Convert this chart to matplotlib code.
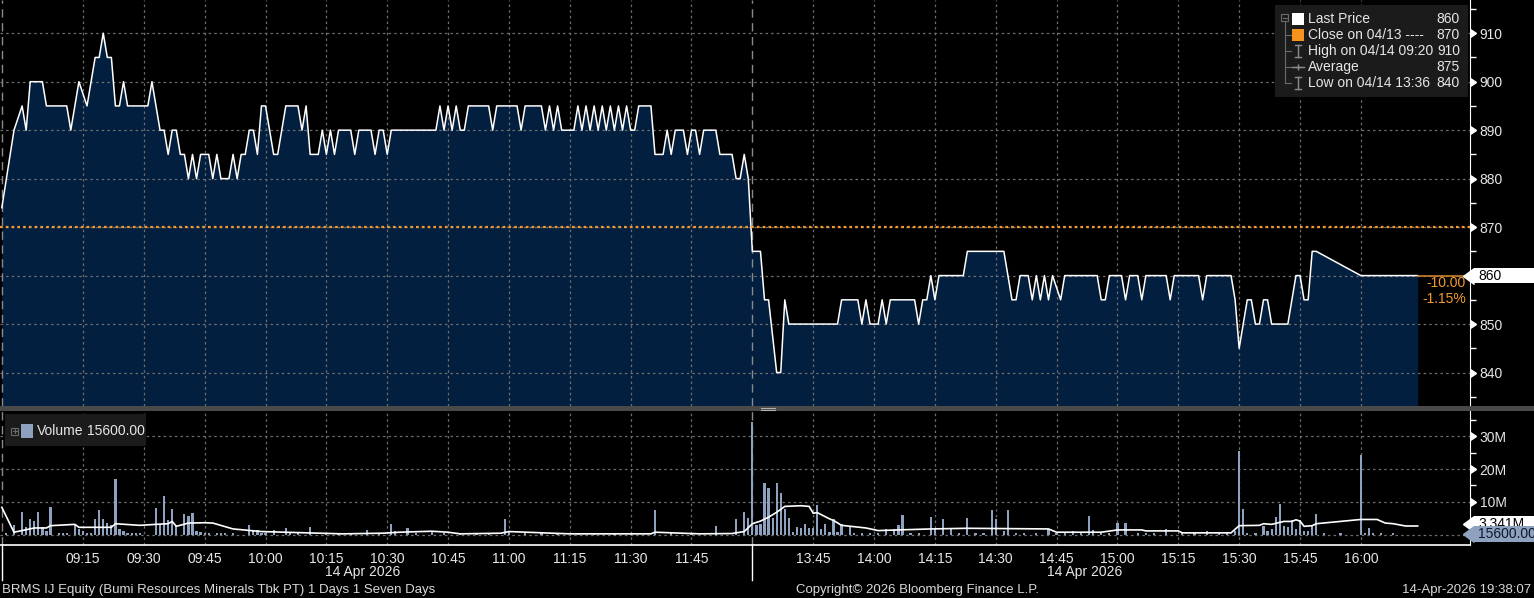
import matplotlib
matplotlib.use('Agg')
import matplotlib.pyplot as plt
import matplotlib.transforms as mtransforms
from matplotlib.patches import Rectangle
from matplotlib.lines import Line2D

# minutes counted from 09:00, the afternoon session (13:30) carries on at 180
price_t = [-5, -2, 0, 1, 2, 5, 6, 11, 12, 14, 16, 18, 19, 20, 21, 22, 23, 24, 25, 26,
           31, 32, 34, 35, 36, 37, 38, 39, 40, 41, 42, 43, 44, 46, 47, 48, 49, 51, 52, 53,
           54, 55, 56, 57, 58, 59, 60, 62, 63, 65, 68, 69, 70, 71, 73, 74, 75, 76, 77, 78,
           81, 82, 83, 86, 87, 88, 89, 90, 91, 102, 103, 104, 105, 106, 107, 108, 109, 110, 115, 116,
           117, 122, 123, 124, 128, 129, 130, 131, 132, 133, 136, 137, 138, 139, 140, 141, 142, 143, 144, 145,
           146, 147, 148, 149, 150, 151, 152, 155, 156, 158, 159, 160, 161, 163, 164, 165, 166, 167, 168, 171,
           172, 175, 176, 177, 178, 179,
           180, 182, 183, 184, 186, 187, 188, 189, 201, 202, 206, 207, 208, 209, 211, 212, 213, 214, 220, 221,
           222, 223, 224, 225, 226, 232, 233, 242, 244, 245, 246, 248, 249, 250, 251, 252, 253, 254, 256, 257,
           265, 266, 267, 268, 271, 272, 273, 275, 276, 277, 282, 283, 284, 290, 291, 292, 298, 299, 300, 302,
           303, 304, 305, 306, 307, 308, 312, 314, 315, 316, 317, 318, 319, 330, 344]
price_v = [874, 890, 895, 890, 900, 900, 895, 895, 890, 900, 895, 905, 905, 910, 905, 905, 895, 895, 900, 895,
           895, 900, 890, 890, 885, 890, 890, 885, 885, 880, 885, 880, 885, 885, 880, 885, 880, 880, 885, 880,
           885, 885, 890, 890, 885, 895, 895, 885, 885, 895, 895, 890, 895, 885, 885, 890, 885, 890, 885, 890,
           890, 885, 890, 890, 885, 890, 890, 885, 890, 890, 895, 890, 895, 890, 895, 890, 890, 895, 895, 890,
           895, 895, 890, 895, 895, 890, 895, 890, 895, 890, 890, 895, 890, 895, 890, 895, 890, 895, 890, 895,
           890, 895, 890, 895, 890, 890, 895, 895, 885, 885, 890, 885, 890, 890, 885, 890, 890, 885, 890, 890,
           885, 885, 880, 880, 885, 880,
           865, 865, 855, 855, 840, 840, 855, 850, 850, 855, 855, 850, 855, 850, 850, 855, 850, 855, 855, 850,
           855, 855, 860, 855, 860, 860, 865, 865, 855, 855, 860, 860, 855, 860, 855, 860, 855, 860, 855, 860,
           860, 855, 855, 860, 860, 855, 860, 860, 855, 860, 860, 855, 860, 860, 855, 860, 860, 855, 845, 855,
           855, 850, 850, 855, 855, 850, 850, 860, 860, 855, 855, 865, 865, 860, 860]

prev_close = 870
last_price = 860

# volume per minute, in millions
vol_t = [-2, 0, 1, 2, 3, 4, 5, 6, 7, 13, 14, 15, 18, 19, 20, 21, 22, 23, 24, 25,
         33, 34, 35, 36, 37, 38, 40, 41, 42, 43, 44, 56, 57, 58, 62, 65, 71, 85, 91, 92,
         95, 101, 119, 120, 156, 171, 176, 178, 179,
         180, 181, 182, 183, 184, 185, 186, 187, 188, 189, 190, 191, 192, 193, 194, 195, 196, 197, 198, 199,
         200, 201, 202, 204, 213, 215, 216, 217, 224, 225, 227, 229, 233, 239, 240, 242, 243, 253, 259, 263,
         264, 270, 272, 282, 292, 299, 300, 301, 304, 306, 307, 308, 309, 310, 311, 312, 313, 314, 315, 316,
         317, 318, 319, 330, 331, 332, 333]
vol_m = [2.8, 6.8, 2.2, 4.6, 4.1, 7.0, 2.2, 1.0, 8.3, 3.1, 1.7, 1.2, 4.6, 7.6, 4.6, 3.5, 2.8, 17.1, 1.7, 1.0,
         8.1, 3.1, 11.9, 4.3, 7.8, 2.8, 6.3, 5.8, 6.6, 1.2, 0.8, 3.0, 1.2, 1.4, 1.4, 2.1, 2.4, 1.4, 3.1, 1.2,
         2.0, 1.0, 4.8, 1.0, 7.6, 2.5, 4.6, 7.0, 5.0,
         34.4, 2.8, 3.3, 15.6, 14.1, 5.0, 15.9, 12.6, 7.9, 5.0, 0.9, 2.2, 2.1, 3.1, 1.9, 2.0, 8.9, 1.8, 3.1, 0.9,
         4.6, 0.9, 3.3, 2.5, 1.7, 1.7, 3.0, 6.1, 5.3, 1.7, 4.6, 1.7, 5.0, 7.4, 4.6, 1.2, 7.4, 1.7, 1.2, 5.8,
         1.5, 3.4, 3.4, 1.7, 1.2, 1.2, 25.5, 7.7, 0.4, 2.5, 1.2, 1.7, 5.5, 9.4, 2.5, 2.2, 4.3, 1.7, 4.5, 1.2,
         1.2, 2.8, 6.3, 24.4, 0.5, 2.0, 0.4]

# the many tiny trades along the base
small_t = [-4, 9, 10, 11, 16, 17, 26, 27, 28, 29, 45, 46, 48, 49, 50, 52, 59, 60, 66, 68,
           75, 78, 81, 88, 97, 104, 108, 112, 115, 124, 128, 132, 137, 141, 146, 150, 160, 165, 205, 207,
           209, 211, 219, 221, 231, 235, 237, 245, 247, 250, 255, 257, 261, 266, 268, 275, 277, 279, 286, 289,
           295, 297, 302, 321, 325, 335, 338]
small_m = [0.4, 0.5, 0.4, 0.5, 0.4, 0.5, 0.4, 0.5, 0.4, 0.5, 0.4, 0.5, 0.4, 0.5, 0.4, 0.5, 0.4, 0.5, 0.4, 0.5,
           0.4, 0.5, 0.4, 0.5, 0.4, 0.5, 0.4, 0.5, 0.4, 0.5, 0.4, 0.5, 0.4, 0.5, 0.4, 0.5, 0.4, 0.5, 0.4, 0.5,
           0.4, 0.5, 0.4, 0.5, 0.4, 0.5, 0.4, 0.5, 0.4, 0.5, 0.4, 0.5, 0.4, 0.5, 0.4, 0.5, 0.4, 0.5, 0.4, 0.5,
           0.4, 0.5, 0.4, 0.5, 0.4, 0.5, 0.4]

# moving average of volume
avg_t = [-5, -2, 0, 3, 6, 7, 13, 14, 18, 22, 23, 29, 33, 36, 37, 38, 41, 45, 47, 52,
         59, 79, 89, 93, 101, 105, 108, 118, 120, 135, 155, 156, 167, 175, 178, 180, 182, 184, 186, 188,
         192, 194, 195, 196, 199, 200, 202, 208, 211, 216, 224, 233, 253, 255, 266, 270, 276, 277, 285, 286,
         298, 300, 305, 306, 308, 311, 313, 314, 315, 316, 318, 319, 330, 334, 336, 338, 341, 344]
avg_m = [8.3, 0.7, 1.2, 2.0, 2.0, 2.7, 3.1, 2.2, 2.2, 2.2, 3.3, 2.8, 3.1, 3.3, 4.0, 2.5, 3.5, 3.6, 3.5, 1.7,
         0.9, 0.2, 0.4, 0.7, 1.0, 0.7, 0.2, 0.4, 0.9, 0.2, 0.2, 0.7, 0.2, 0.3, 0.9, 3.3, 4.1, 5.3, 6.8, 8.6,
         8.8, 8.6, 6.5, 6.7, 4.8, 4.3, 2.8, 2.0, 1.2, 1.4, 1.7, 1.9, 1.7, 0.7, 0.7, 1.4, 1.4, 1.1, 1.1, 0.5,
         0.5, 2.7, 2.8, 3.3, 3.1, 4.0, 4.0, 4.5, 4.1, 2.5, 2.7, 3.3, 4.6, 4.6, 3.5, 3.3, 2.6, 2.6]
avg_last = 3.341
vol_last = 15600.00

tick_t = [15, 30, 45, 60, 75, 90, 105, 120, 135, 150, 165,
          195, 210, 225, 240, 255, 270, 285, 300, 315, 330]
tick_lbl = ['09:15', '09:30', '09:45', '10:00', '10:15', '10:30', '10:45', '11:00', '11:15', '11:30', '11:45',
            '13:45', '14:00', '14:15', '14:30', '14:45', '15:00', '15:15', '15:30', '15:45', '16:00']
price_ticks = [840, 850, 860, 870, 880, 890, 900, 910]
session_t = [-5, 180]
date_t = [84, 262]

W, H = 1534, 598
plt.rcParams['font.family'] = ['Liberation Sans', 'DejaVu Sans']
TXT = '#e6e6e6'
GRID = dict(color='#6e6e6e', linestyle=(0, (2, 2.5)), linewidth=0.9)
FILL = '#031f3f'
VOLC = '#8ea2c0'
ORANGE = '#f29a2e'


def fx(px):
    return px / W


def fy(py):
    return 1 - py / H


def tag(a, yval, txt, fc, tc, h, z):
    # Bloomberg style value tag sitting on the right axis
    tr = mtransforms.blended_transform_factory(a.transAxes, a.transData)
    a.add_patch(Rectangle((1474 / 1470, yval - h / 2), 70 / 1470, h, transform=tr, fc=fc, ec='none',
                          clip_on=False, zorder=z))
    a.plot([1474 / 1470], [yval], transform=tr, marker=8, ms=11, color=fc, clip_on=False, zorder=z)
    a.text(1478 / 1470, yval, txt, transform=tr, ha='left', va='center', color=tc, fontsize=10,
           clip_on=False, zorder=z + 0.5)


fig = plt.figure(figsize=(W / 100, H / 100), dpi=100, facecolor='black')
ax = fig.add_axes([0, fy(406), fx(1470), 406 / H], facecolor='black')
ax2 = fig.add_axes([0, fy(545), fx(1470), (545 - 411) / H], facecolor='black', sharex=ax)

# price panel
ax.set_xlim(-5.45, 356.9)
ax.set_ylim(833.1, 916.85)
ax.fill_between(price_t, price_v, 833.1, color=FILL, lw=0, zorder=1)
ax.plot(price_t, price_v, color='white', lw=1.1, zorder=3)
ax.plot([price_t[-1], 356.9], [last_price, last_price], color='#c9802c', lw=1.2, zorder=3)
ax.axhline(prev_close, color=ORANGE, lw=1.6, linestyle=(0, (1.2, 1.4)), zorder=4)
for s in session_t:
    ax.axvline(s, color='#8a8a8a', lw=1, linestyle=(0, (6, 4)), zorder=2)
ax.set_yticks(price_ticks)
ax.set_yticklabels(['' if p == last_price else str(p) for p in price_ticks])
ax.set_yticks(range(835, 916, 10), minor=True)
ax.yaxis.tick_right()
ax.tick_params(axis='y', which='major', colors=TXT, labelsize=10, length=5, width=1, pad=2)
ax.tick_params(axis='y', which='minor', colors='white', length=4, width=1)
ax.tick_params(axis='x', length=0, labelbottom=False)
ax.set_xticks(tick_t)
ax.grid(True, which='major', zorder=2, **GRID)
for sp in ['left', 'top', 'bottom']:
    ax.spines[sp].set_visible(False)
ax.spines['right'].set_color('white')

blend = mtransforms.blended_transform_factory(ax.transAxes, ax.transData)
ax.text(1466 / 1470, 858.5, '-10.00', transform=blend, ha='right', va='center', color=ORANGE, fontsize=10)
ax.text(1466 / 1470, 855.2, '-1.15%', transform=blend, ha='right', va='center', color=ORANGE, fontsize=10)
tag(ax, last_price, str(last_price), 'white', 'black', 3.2, 7)

# volume panel
ax2.set_ylim(-3.21, 37.77)
ax2.bar(small_t, small_m, width=0.55, color=VOLC, zorder=2)
ax2.bar(vol_t, vol_m, width=0.55, color=VOLC, zorder=2)
ax2.plot(avg_t, avg_m, color='white', lw=1.2, zorder=3)
for s in session_t:
    ax2.axvline(s, color='#8a8a8a', lw=1, linestyle=(0, (6, 4)), zorder=1)
ax2.set_yticks([0, 10, 20, 30])
ax2.set_yticklabels(['', '10M', '20M', '30M'])
ax2.set_yticks([5, 15, 25, 35], minor=True)
ax2.yaxis.tick_right()
ax2.tick_params(axis='y', which='major', colors=TXT, labelsize=10, length=5, width=1, pad=2)
ax2.tick_params(axis='y', which='minor', colors='white', length=4, width=1)
ax2.set_xticks(tick_t)
ax2.set_xticklabels(tick_lbl)
ax2.tick_params(axis='x', colors=TXT, labelsize=10, length=0, pad=5)
ax2.grid(True, which='major', zorder=1, **GRID)
for sp in ['left', 'top']:
    ax2.spines[sp].set_visible(False)
ax2.spines['right'].set_color('white')
ax2.spines['bottom'].set_color('white')
ax2.spines['bottom'].set_linewidth(1.2)

bx = mtransforms.blended_transform_factory(ax2.transData, ax2.transAxes)
for s in session_t:
    ax2.plot([s, s], [0, -0.26], transform=bx, color='white', lw=1, clip_on=False)
for d in date_t:
    ax2.text(d, -0.2, '14 Apr 2026', transform=bx, ha='center', va='center', color=TXT, fontsize=10)

tag(ax2, avg_last, '%.3fM' % avg_last, 'white', 'black', 4.9, 6)
tag(ax2, vol_last / 1e6, '%.2f' % vol_last, VOLC, '#0c1a2e', 4.9, 8)

# triangle markers on the right-hand major ticks
for a in (ax, ax2):
    for tk in a.yaxis.get_major_ticks():
        tk.tick2line.set_marker(9)
        tk.tick2line.set_markersize(6)
        tk.tick2line.set_markerfacecolor('white')
        tk.tick2line.set_markeredgecolor('white')

# separator between the panels
fig.patches.append(Rectangle((0, fy(411)), 1, 5 / H, transform=fig.transFigure, fc='#4a4a4a', ec='none', zorder=5))
for gy in (407.5, 409.5):
    fig.lines.append(Line2D([fx(761), fx(775)], [fy(gy), fy(gy)], transform=fig.transFigure,
                            color='#b0b0b0', lw=0.8, zorder=6))

# price legend
fig.patches.append(Rectangle((fx(1275), fy(97)), fx(1468) - fx(1275), 92 / H, transform=fig.transFigure,
                             fc='#1b1b1b', ec='none', zorder=5))
rows = [19, 35, 51, 67, 83]
labels = ['Last Price', 'Close on 04/13 ----', 'High on 04/14 09:20', 'Average', 'Low on 04/14 13:36']
values = ['860', '870', '910', '875', '840']
TREE = '#6a6a6a'
fig.patches.append(Rectangle((fx(1281), fy(21)), 7 / W, 7 / H, transform=fig.transFigure,
                             fc='none', ec=TREE, lw=0.8, zorder=6))
fig.lines.append(Line2D([fx(1282.5), fx(1286.5)], [fy(17.5), fy(17.5)], transform=fig.transFigure,
                        color=TREE, lw=0.8, zorder=6))
fig.lines.append(Line2D([fx(1284.5), fx(1284.5)], [fy(22), fy(83)], transform=fig.transFigure,
                        color=TREE, lw=0.8, zorder=6))
for r in rows[1:]:
    fig.lines.append(Line2D([fx(1284.5), fx(1291)], [fy(r), fy(r)], transform=fig.transFigure,
                            color=TREE, lw=0.8, zorder=6))
for r, lab, val in zip(rows, labels, values):
    fig.text(fx(1308), fy(r), lab, color=TXT, fontsize=10, va='center', ha='left', zorder=7)
    fig.text(fx(1460), fy(r), val, color=TXT, fontsize=10, va='center', ha='right', zorder=7)
fig.patches.append(Rectangle((fx(1292), fy(25)), 12 / W, 12 / H, transform=fig.transFigure,
                             fc='white', ec='none', zorder=6))
fig.patches.append(Rectangle((fx(1292), fy(41)), 12 / W, 12 / H, transform=fig.transFigure,
                             fc='#f7941d', ec='none', zorder=6))
ICON = '#8c8c8c'
for top, bot in ((45, 57), (77, 89)):
    fig.lines.append(Line2D([fx(1298), fx(1298)], [fy(top), fy(bot)], transform=fig.transFigure,
                            color=ICON, lw=1, zorder=6))
    for yy in (top, bot):
        fig.lines.append(Line2D([fx(1295), fx(1301)], [fy(yy), fy(yy)], transform=fig.transFigure,
                                color=ICON, lw=1, zorder=6))
fig.lines.append(Line2D([fx(1292), fx(1304)], [fy(67), fy(67)], transform=fig.transFigure,
                        color=ICON, lw=1, zorder=6))
fig.lines.append(Line2D([fx(1298)], [fy(67)], transform=fig.transFigure, color=ICON,
                        marker='+', ms=5, mew=1, zorder=6))

# volume legend
fig.patches.append(Rectangle((fx(5), fy(446)), 141 / W, 32 / H, transform=fig.transFigure,
                             fc='#1b1b1b', ec='none', zorder=5))
fig.patches.append(Rectangle((fx(11), fy(434.5)), 7 / W, 7 / H, transform=fig.transFigure,
                             fc='none', ec=TREE, lw=0.8, zorder=6))
fig.lines.append(Line2D([fx(12.5), fx(16.5)], [fy(431), fy(431)], transform=fig.transFigure,
                        color=TREE, lw=0.8, zorder=6))
fig.lines.append(Line2D([fx(14.5), fx(14.5)], [fy(429), fy(433)], transform=fig.transFigure,
                        color=TREE, lw=0.8, zorder=6))
fig.patches.append(Rectangle((fx(21), fy(438)), 12 / W, 14 / H, transform=fig.transFigure,
                             fc=VOLC, ec='none', zorder=6))
fig.text(fx(37), fy(431), 'Volume', color=TXT, fontsize=10, va='center', ha='left', zorder=7)
fig.text(fx(87), fy(431), '%.2f' % vol_last, color=TXT, fontsize=10, va='center', ha='left', zorder=7)

# footer
fig.text(fx(2), fy(590), 'BRMS IJ Equity (Bumi Resources Minerals Tbk PT) 1 Days 1 Seven Days',
         color='#d8d8d8', fontsize=9.5, va='center', ha='left')
fig.text(fx(917), fy(590), 'Copyright\u00a9 2026 Bloomberg Finance L.P.', color='#d8d8d8',
         fontsize=9.5, va='center', ha='center')
fig.text(fx(1531), fy(590), '14-Apr-2026 19:38:07', color='#d8d8d8', fontsize=9.5, va='center', ha='right')

fig.savefig('out.png', dpi=100, facecolor='black')
